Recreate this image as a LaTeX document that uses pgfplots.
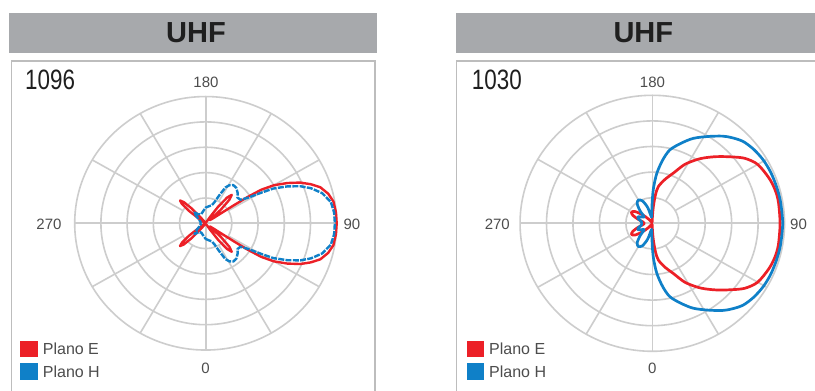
\documentclass[border=0pt]{standalone}
\usepackage{pgfplots}
\pgfplotsset{compat=1.18}
\usepackage{pgfplotstable}
\usepackage{fontspec}
\setmainfont{Liberation Sans}
\usepackage{graphicx}
\definecolor{eRed}{HTML}{EC2027}
\definecolor{hBlue}{HTML}{0F80C8}
\definecolor{hdr}{HTML}{A7A9AC}
\definecolor{gridc}{HTML}{CDCDCD}
\definecolor{boxc}{HTML}{BDBDBD}
\definecolor{lbl}{HTML}{4D4D4D}

% left panel (1096), E plane
\pgfplotstableread{
t r
0 0.05
20 0.05
31 0.08
33.5 0.3
36 0.8
38.8 1.3
41.5 1.5
44.2 1.3
47 0.8
49.5 0.3
52 0.2
55 0.35
56 0.7
56.5 1.3
57 1.9
58 2.5
60 3.0
63 3.5
66 3.95
69 4.3
72 4.6
76 4.82
80 4.95
85 4.99
90 5.00
95 4.99
100 4.95
104 4.82
108 4.6
111 4.3
114 3.95
117 3.5
120 3.0
122 2.5
123 1.9
123.5 1.3
124 0.7
125 0.35
128 0.2
130.5 0.3
133 0.8
135.8 1.3
138.5 1.5
141.2 1.3
144 0.8
146.5 0.3
149 0.08
160 0.05
180 0.05
200 0.05
217 0.08
220 0.3
222.5 0.8
225 1.18
227.5 1.33
230 1.18
232.5 0.8
235 0.3
238 0.08
250 0.05
270 0.05
290 0.05
302 0.08
305 0.3
307.5 0.8
310 1.18
312.5 1.33
315 1.18
317.5 0.8
320 0.3
323 0.08
340 0.05
360 0.05
}\EleftT

% left panel (1096), H plane
\pgfplotstableread{
t r
0 0.62
10 0.68
18 0.75
22 0.9
25 1.2
28 1.6
31 1.75
35 1.84
40 1.82
46 1.7
50 1.58
55 1.62
58 1.9
60 2.35
62 2.92
65 3.45
68 3.9
71 4.25
75 4.6
80 4.85
85 4.92
90 4.93
95 4.92
100 4.85
105 4.6
109 4.25
112 3.9
115 3.45
118 2.92
120 2.35
122 1.9
125 1.62
130 1.58
134 1.7
140 1.82
145 1.84
149 1.75
152 1.6
155 1.2
158 0.9
162 0.75
170 0.68
180 0.62
190 0.5
205 0.4
218 0.45
225 0.6
230 0.5
240 0.3
255 0.2
270 0.2
285 0.2
300 0.3
310 0.5
315 0.6
322 0.45
335 0.4
350 0.5
360 0.62
}\HleftT

% right panel (1030), E plane
\pgfplotstableread{
t r
0 0.15
1.5 0.3
3.5 0.65
6 1.1
9 1.45
16 1.8
22 2.11
28 2.6
34 3.0
38 3.25
43 3.56
48.5 3.92
54 4.32
60 4.6
68 4.75
74 4.82
80 4.84
90 4.83
100 4.84
106 4.82
112 4.75
120 4.6
126 4.32
131.5 3.92
137 3.56
142 3.25
146 3.0
152 2.6
158 2.11
164 1.8
171 1.45
174 1.1
176.5 0.65
178.5 0.3
180 0.15
185 0.05
210 0.05
220 0.2
228 0.5
235 0.8
241 0.9
247 0.8
254 0.55
262 0.35
270 0.3
278 0.35
286 0.55
293 0.8
299 0.9
305 0.8
312 0.5
320 0.2
330 0.05
355 0.05
360 0.15
}\ErightT

% right panel (1030), H plane
\pgfplotstableread{
t r
0 0.91
2 1.4
5 1.96
9 2.5
13 2.94
19 3.3
25 3.66
32 4.0
38 4.32
42 4.5
47 4.69
53 4.8
59.5 4.87
66 4.9
73 4.91
80 4.92
90 4.93
100 4.92
107 4.91
114 4.9
120.5 4.87
127 4.8
133 4.69
138 4.5
142 4.32
148 4.0
155 3.66
161 3.3
167 2.94
171 2.5
175 1.96
178 1.4
180 0.91
182 0.5
185 0.25
190 0.3
196 0.65
203 0.95
210 1.05
217 0.95
224 0.65
230 0.4
237 0.45
245 0.6
252 0.55
260 0.42
270 0.4
280 0.42
288 0.55
295 0.6
303 0.45
310 0.4
316 0.65
323 0.95
330 1.05
337 0.95
344 0.65
350 0.3
355 0.25
358 0.5
360 0.91
}\HrightT

\newcommand{\pgrid}[4]{%
  \begin{scope}[shift={(#1,#2)}, x=#3, y=#4, gridc, line width=1.6pt]
    \foreach \k in {1,...,5} \draw (0,0) circle[radius=\k];
    \foreach \a in {0,90,180,270} \draw (0,0) -- (\a:5);
    \foreach \a in {30,60,120,150,210,240,300,330} \draw (\a:1) -- (\a:5);
  \end{scope}}

\pgfplotsset{
  polarpanel/.style={hide axis, xmin=-5, xmax=5, ymin=-5, ymax=5, clip=false, anchor=center},
}

\begin{document}
\begin{tikzpicture}[x=1pt,y=1pt]
\useasboundingbox (0,0) rectangle (815,391);
\clip (0,0) rectangle (815,391);
\fill[white] (0,0) rectangle (815,391);

% headers
\fill[hdr] (9.3,337.7) rectangle (376.7,378.3);
\fill[hdr] (456,337.7) rectangle (830,378.3);
\node[anchor=base, inner sep=0, font=\fontsize{29}{29}\selectfont\bfseries, text=black!88] at (196,348.3) {UHF};
\node[anchor=base, inner sep=0, font=\fontsize{29}{29}\selectfont\bfseries, text=black!88] at (643.3,348.3) {UHF};

% boxes
\draw[boxc, line width=1.4pt] (11.7,-10) -- (11.7,330) -- (375,330) -- (375,-10);
\draw[boxc, line width=1.4pt] (456.7,-10) -- (456.7,330) -- (830,330);

% grids
\pgrid{205.7}{167.7}{26.2pt}{25.35pt}
\pgrid{652.3}{167.7}{26.45pt}{25.6pt}

% left polar plot
\begin{axis}[polarpanel, at={(205.7pt,167.7pt)}, x=26.2pt, y=25.35pt]
\addplot[eRed, line width=2.4pt, line join=round] table[x expr={\thisrow{r}*sin(\thisrow{t})}, y expr={-\thisrow{r}*cos(\thisrow{t})}] {\EleftT};
\addplot[hBlue, line width=2.4pt, line join=round, dash pattern=on 6pt off 1.3pt] table[x expr={\thisrow{r}*sin(\thisrow{t})}, y expr={-\thisrow{r}*cos(\thisrow{t})}] {\HleftT};
\end{axis}

% right polar plot
\begin{axis}[polarpanel, at={(652.3pt,167.7pt)}, x=26.45pt, y=25.6pt]
\addplot[eRed, line width=2.7pt, line join=round, smooth, tension=0.5] table[x expr={\thisrow{r}*sin(\thisrow{t})}, y expr={-\thisrow{r}*cos(\thisrow{t})}] {\ErightT};
\addplot[hBlue, line width=2.7pt, line join=round, smooth, tension=0.5] table[x expr={\thisrow{r}*sin(\thisrow{t})}, y expr={-\thisrow{r}*cos(\thisrow{t})}] {\HrightT};
\end{axis}

% angle labels
\begin{scope}[every node/.style={inner sep=0, text=lbl, font=\fontsize{15}{15}\selectfont}]
\node[anchor=base] at (206,303.7) {180};
\node[anchor=base west] at (343.3,161) {90};
\node[anchor=base east] at (61.7,161) {270};
\node[anchor=base] at (205.5,17.7) {0};
\node[anchor=base] at (652.5,303.7) {180};
\node[anchor=base west] at (790,161) {90};
\node[anchor=base east] at (510,161) {270};
\node[anchor=base] at (652.3,17.7) {0};
\end{scope}

% frequency
\node[anchor=base west, inner sep=0, text=black!88] at (25,301) {\scalebox{0.8}[1]{\fontsize{28}{28}\selectfont 1096}};
\node[anchor=base west, inner sep=0, text=black!88] at (471.7,301) {\scalebox{0.8}[1]{\fontsize{28}{28}\selectfont 1030}};

% legends
\fill[eRed] (20,34.3) rectangle (38,50.3);
\fill[hBlue] (20,11) rectangle (38,27.7);
\fill[eRed] (467,34.3) rectangle (484,50.3);
\fill[hBlue] (467,11) rectangle (484,27.7);
\begin{scope}[every node/.style={anchor=base west, inner sep=0, text=lbl, font=\fontsize{16}{16}\selectfont}]
\node at (42.7,36) {Plano E};
\node at (42.7,13) {Plano H};
\node at (489,36) {Plano E};
\node at (489,13) {Plano H};
\end{scope}
\end{tikzpicture}
\end{document}
